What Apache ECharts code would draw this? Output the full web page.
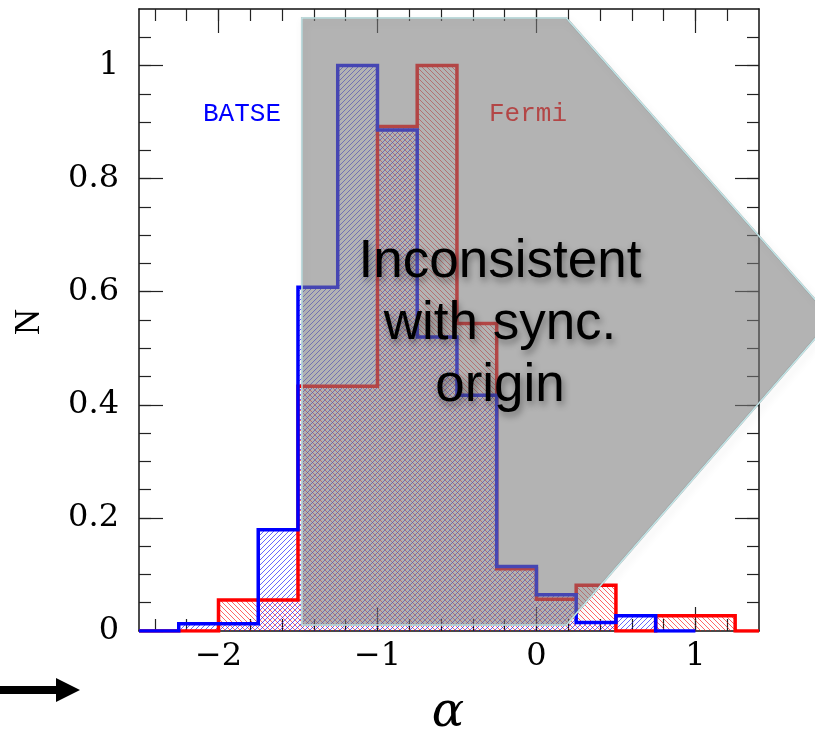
<!DOCTYPE html>
<html>
<head>
<meta charset="utf-8">
<script src="https://cdn.jsdelivr.net/npm/echarts@6/dist/echarts.min.js"></script>
<style>
  html, body { margin: 0; padding: 0; background: #fff; }
  #chart { width: 815px; height: 734px; }
</style>
</head>
<body>
<div id="chart"></div>
<script>
// histogram bins (alpha) and normalised counts
const binEdges = [-2.5, -2.25, -2.0, -1.75, -1.5, -1.25, -1.0, -0.75, -0.5, -0.25, 0, 0.25, 0.5, 0.75, 1.0, 1.25]
const batseN = [0, 0.013, 0.013, 0.179, 0.608, 1.0, 0.886, 0.52, 0.417, 0.114, 0.064, 0.015, 0.027, 0]
const fermiN = [0, 0, 0.055, 0.055, 0.433, 0.433, 0.892, 1.0, 0.544, 0.110, 0.056, 0.081, 0, 0.027, 0.027]

// tick values
const xMajorTicks = [-2, -1, 0, 1]
const xMinorTicks = [-2.4, -2.2, -2.0, -1.8, -1.6, -1.4, -1.2, -1.0, -0.8, -0.6, -0.4, -0.2, 0, 0.2, 0.4, 0.6, 0.8, 1.0, 1.2]
const yMajorTicks = [0, 0.2, 0.4, 0.6, 0.8, 1]
const yMinorTicks = [0.05, 0.1, 0.15, 0.2, 0.25, 0.3, 0.35, 0.4, 0.45, 0.5, 0.55, 0.6, 0.65, 0.7, 0.75, 0.8, 0.85, 0.9, 0.95, 1.0, 1.05]

// grey "inconsistent with synchrotron" region (data coords)
const shadeX = [-1.475, 0.188, 1.86, 0.188, -1.475]
const shadeY = [1.084, 1.084, 0.552, 0.0106, 0.0106]

const X_MIN = -2.5
const X_MAX = 1.4
const Y_MIN = 0
const Y_MAX = 1.1

function hatch(color, up) {
  const s = 5
  const c = document.createElement('canvas')
  c.width = s
  c.height = s
  const ctx = c.getContext('2d')
  ctx.strokeStyle = color
  ctx.lineWidth = 1
  ctx.beginPath()
  if (up) { // '/'
    ctx.moveTo(-1, s + 1); ctx.lineTo(s + 1, -1)
    ctx.moveTo(-1, 1); ctx.lineTo(1, -1)
    ctx.moveTo(s - 1, s + 1); ctx.lineTo(s + 1, s - 1)
  } else { // '\'
    ctx.moveTo(-1, -1); ctx.lineTo(s + 1, s + 1)
    ctx.moveTo(s - 1, -1); ctx.lineTo(s + 1, 1)
    ctx.moveTo(-1, s - 1); ctx.lineTo(1, s + 1)
  }
  ctx.stroke()
  return { image: c, repeat: 'repeat' }
}

function binData(values) {
  return values.map((v, i) => [binEdges[i], binEdges[i + 1], v])
}

function outline(values, extendTo) {
  const pts = [[binEdges[0], 0]]
  values.forEach((v, i) => {
    pts.push([binEdges[i], v])
    pts.push([binEdges[i + 1], v])
  })
  pts.push([binEdges[values.length], 0])
  if (extendTo !== undefined) pts.push([extendTo, 0])
  return pts
}

function fillSeries(name, values, pattern, z) {
  return {
    name: name,
    type: 'custom',
    z: z,
    data: binData(values),
    encode: { x: [0, 1], y: 2 },
    renderItem: function(params, api) {
      const a = api.coord([api.value(0), api.value(2)])
      const b = api.coord([api.value(1), 0])
      return {
        type: 'rect',
        shape: { x: a[0], y: a[1], width: b[0] - a[0], height: b[1] - a[1] },
        style: { fill: pattern }
      }
    }
  }
}

function xAxisDef(position, ticks, len, showLine, showLabel) {
  return {
    type: 'value',
    position: position,
    min: X_MIN,
    max: X_MAX,
    splitLine: { show: false },
    axisLine: { show: showLine, onZero: false, lineStyle: { color: '#111', width: 1.5 } },
    axisTick: { show: true, inside: true, length: len, customValues: ticks, lineStyle: { color: '#222', width: 1.2 } },
    axisLabel: {
      show: showLabel,
      customValues: ticks,
      margin: 10,
      color: '#000',
      fontFamily: 'DejaVu Serif',
      fontSize: 32,
      formatter: function(v) { return v < 0 ? '\u2212' + Math.abs(v) : String(v) }
    }
  }
}

function yAxisDef(position, ticks, len, showLine, showLabel) {
  return {
    type: 'value',
    position: position,
    min: Y_MIN,
    max: Y_MAX,
    splitLine: { show: false },
    axisLine: { show: showLine, onZero: false, lineStyle: { color: '#111', width: 1.5 } },
    axisTick: { show: true, inside: true, length: len, customValues: ticks, lineStyle: { color: '#222', width: 1.2 } },
    axisLabel: {
      show: showLabel,
      customValues: ticks,
      margin: 20,
      color: '#000',
      fontFamily: 'DejaVu Serif',
      fontSize: 32,
      formatter: function(v) { return String(v) }
    }
  }
}

const chart = echarts.init(document.getElementById('chart'))
const option = {
  animation: false,
  backgroundColor: '#fff',
  grid: { left: 139, top: 9, width: 620, height: 622 },
  xAxis: [
    xAxisDef('bottom', xMajorTicks, 24, true, true),
    xAxisDef('bottom', xMinorTicks, 12, false, false),
    xAxisDef('top', xMajorTicks, 24, true, false),
    xAxisDef('top', xMinorTicks, 12, false, false)
  ],
  yAxis: [
    yAxisDef('left', yMajorTicks, 24, true, true),
    yAxisDef('left', yMinorTicks, 12, false, false),
    yAxisDef('right', yMajorTicks, 24, true, false),
    yAxisDef('right', yMinorTicks, 12, false, false)
  ],
  series: [
    fillSeries('Fermi fill', fermiN, hatch('rgba(255,0,0,0.6)', false), 2),
    fillSeries('BATSE fill', batseN, hatch('rgba(0,0,255,0.6)', true), 2),
    {
      name: 'Fermi',
      type: 'line',
      z: 3,
      data: outline(fermiN, X_MAX),
      showSymbol: false,
      lineStyle: { color: '#ff0000', width: 3.5, join: 'miter' }
    },
    {
      name: 'BATSE',
      type: 'line',
      z: 3,
      data: outline(batseN),
      showSymbol: false,
      lineStyle: { color: '#0000ff', width: 3.5, join: 'miter' }
    },
    {
      name: 'shade',
      type: 'custom',
      z: 5,
      clip: false,
      silent: true,
      data: [[0]],
      renderItem: function(params, api) {
        const pts = shadeX.map((x, i) => api.coord([x, shadeY[i]]))
        return {
          type: 'group',
          children: [
            {
              type: 'polygon',
              shape: { points: pts },
              style: {
                fill: 'none',
                stroke: 'rgba(0,0,0,0.3)',
                lineWidth: 2,
                shadowBlur: 8,
                shadowColor: 'rgba(0,0,0,0.4)',
                shadowOffsetX: 2,
                shadowOffsetY: 4
              }
            },
            {
              type: 'polygon',
              shape: { points: pts },
              style: { fill: 'rgba(122,122,122,0.573)', stroke: '#c2e6e8', lineWidth: 1.5 }
            }
          ]
        }
      }
    }
  ],
  graphic: [
    {
      type: 'text', x: 203, y: 114, z: 4,
      style: { text: 'BATSE', fill: '#0000ff', font: '26px "Liberation Mono"', verticalAlign: 'middle' }
    },
    {
      type: 'text', x: 489, y: 114, z: 4,
      style: { text: 'Fermi', fill: '#ff0000', font: '26px "Liberation Mono"', verticalAlign: 'middle' }
    },
    {
      type: 'text', x: 500, y: 324, z: 10,
      style: {
        text: 'Inconsistent\nwith sync.\norigin',
        fill: '#000',
        font: '53px "Liberation Sans"',
        lineHeight: 62,
        align: 'center',
        verticalAlign: 'middle',
        textShadowColor: 'rgba(0,0,0,0.4)',
        textShadowBlur: 7,
        textShadowOffsetX: 2,
        textShadowOffsetY: 4
      }
    },
    {
      type: 'text', x: 30, y: 322, z: 10, rotation: Math.PI / 2,
      style: { text: 'N', fill: '#000', font: '36px "Liberation Serif"', align: 'center', verticalAlign: 'middle' }
    },
    {
      type: 'text', x: 448, y: 714, z: 10,
      style: { text: '\u03b1', fill: '#000', font: 'italic 48px "DejaVu Serif"', align: 'center', verticalAlign: 'middle' }
    },
    {
      type: 'polygon', z: 10,
      shape: { points: [[0, 686], [56, 686], [56, 678], [80, 690], [56, 702], [56, 694], [0, 694]] },
      style: { fill: '#000' }
    }
  ]
}
chart.setOption(option)
</script>
</body>
</html>
